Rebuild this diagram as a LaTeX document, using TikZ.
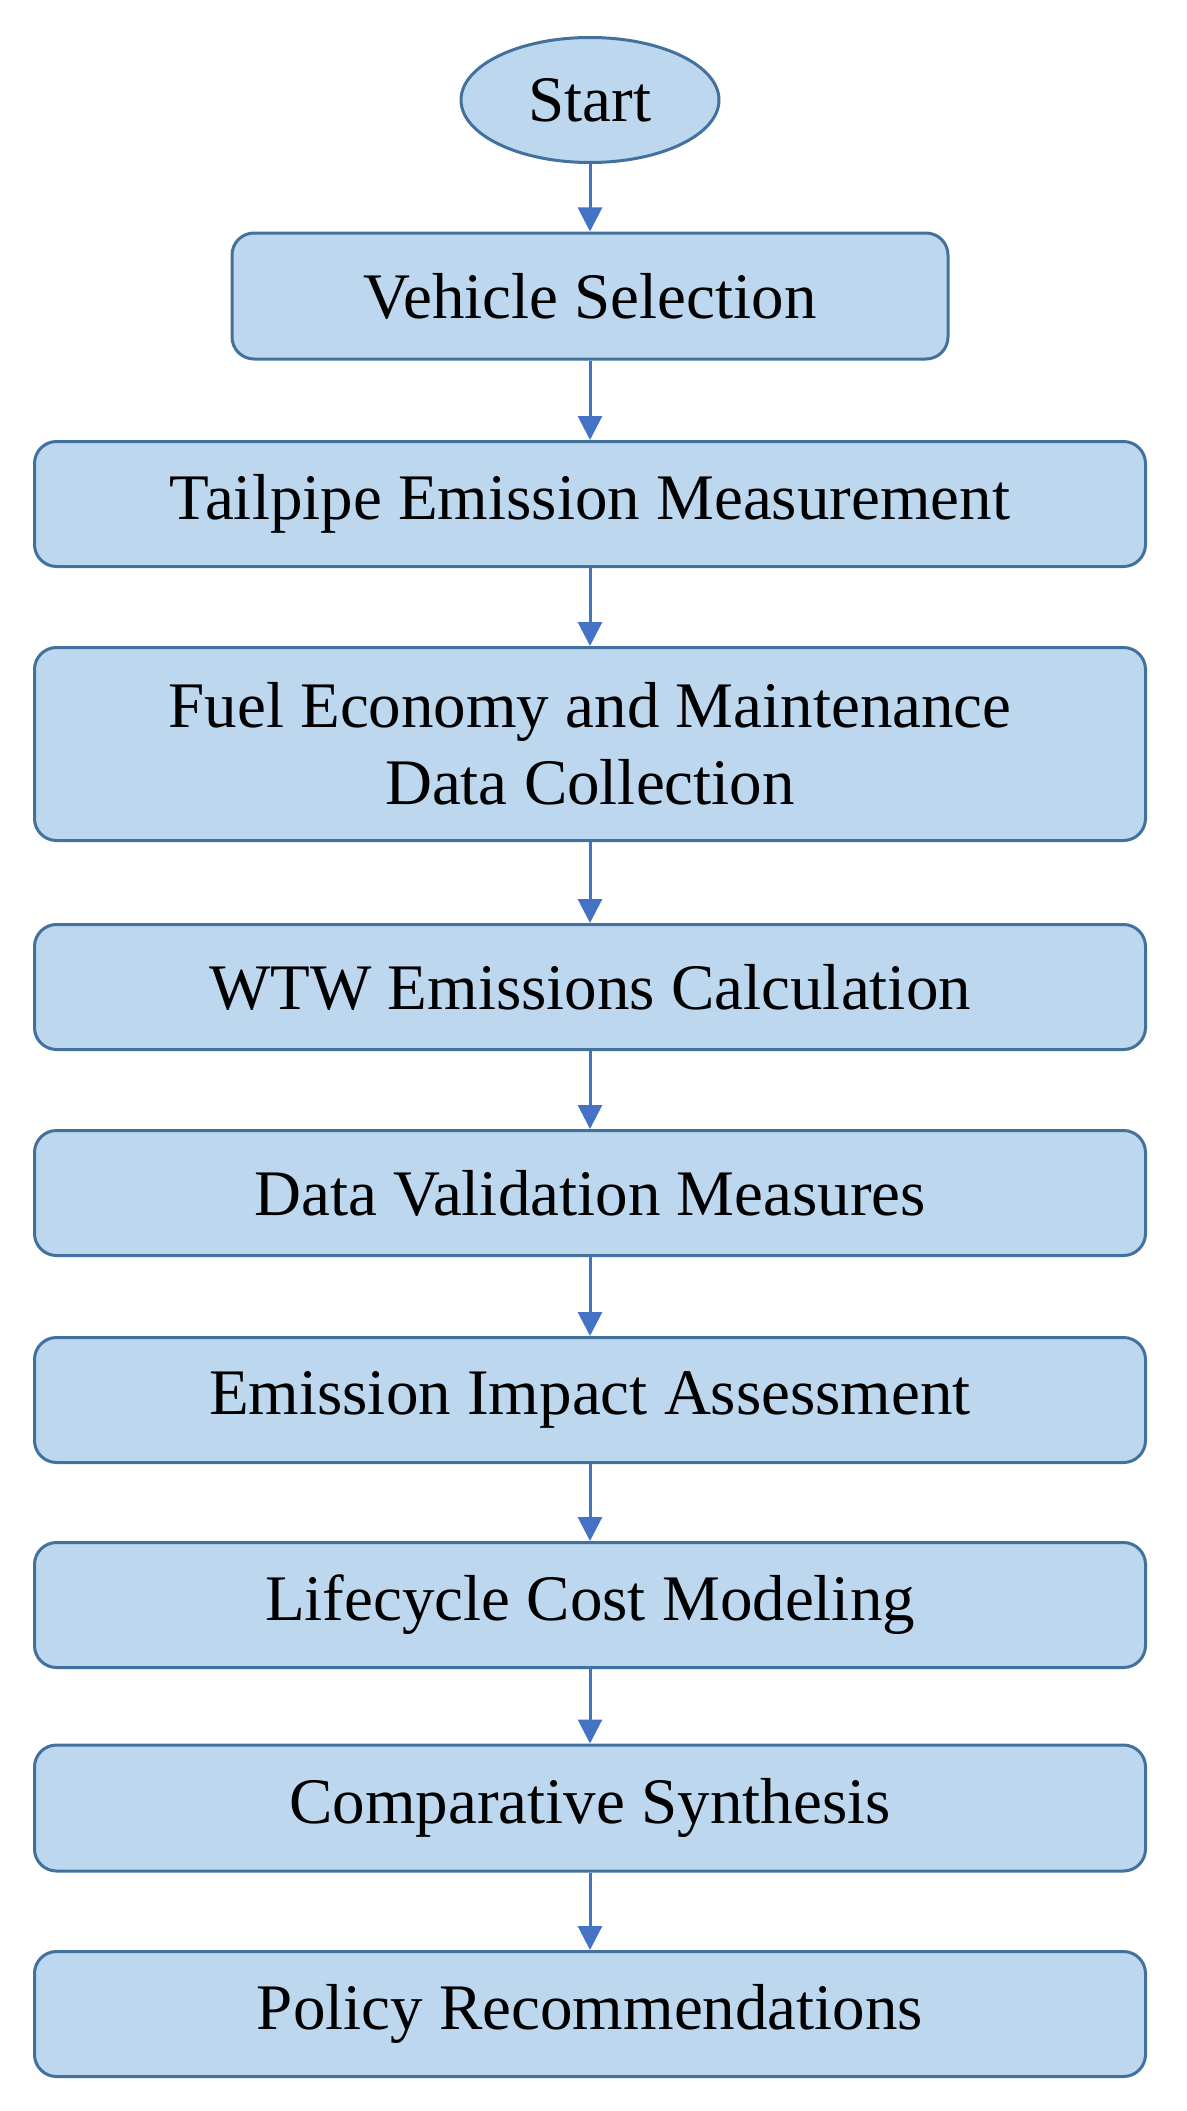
\documentclass[tikz,border=0pt]{standalone}
\usepackage{fontspec}
\setmainfont{Liberation Serif}
\usetikzlibrary{shapes.geometric,arrows.meta}
\definecolor{boxfill}{HTML}{BDD7EE}
\definecolor{boxline}{HTML}{41719C}
\definecolor{arrowc}{HTML}{4472C4}
\begin{document}
\begin{tikzpicture}[x=1pt,y=-1pt,
  txt/.style={font=\fontsize{65}{77}\selectfont, text=black, align=center, inner sep=0pt},
  box/.style={txt, draw=boxline, line width=3pt, fill=boxfill, rounded corners=22pt, minimum width=1111pt, minimum height=125pt},
  startshape/.style={txt, ellipse, draw=boxline, line width=3pt, fill=boxfill, minimum width=258pt, minimum height=125pt},
  arr/.style={draw=arrowc, line width=3pt, -{Triangle[width=24pt,length=24pt]}}
]
\useasboundingbox (0,0) rectangle (1186,2111);
\node[startshape] (start) at (590,100) {Start};
\node[box, minimum width=716pt, minimum height=126pt] (veh) at (590,296) {Vehicle Selection};
\node[box] (tail) at (590,504) {Tailpipe Emission Measurement};
\node[box, minimum height=193pt] (fuel) at (590,744) {Fuel Economy and Maintenance\\Data Collection};
\node[box] (wtw) at (590,987) {WTW Emissions Calculation};
\node[box] (dv) at (590,1193) {Data Validation Measures};
\node[box] (ei) at (590,1400) {Emission Impact Assessment};
\node[box] (lc) at (590,1605) {Lifecycle Cost Modeling};
\node[box, minimum height=126pt] (cs) at (590,1808) {Comparative Synthesis};
\node[box] (pr) at (590,2014) {Policy Recommendations};
\draw[arr] (start.south) -- (veh.north);
\draw[arr] (veh.south) -- (tail.north);
\draw[arr] (tail.south) -- (fuel.north);
\draw[arr] (fuel.south) -- (wtw.north);
\draw[arr] (wtw.south) -- (dv.north);
\draw[arr] (dv.south) -- (ei.north);
\draw[arr] (ei.south) -- (lc.north);
\draw[arr] (lc.south) -- (cs.north);
\draw[arr] (cs.south) -- (pr.north);
\end{tikzpicture}
\end{document}
